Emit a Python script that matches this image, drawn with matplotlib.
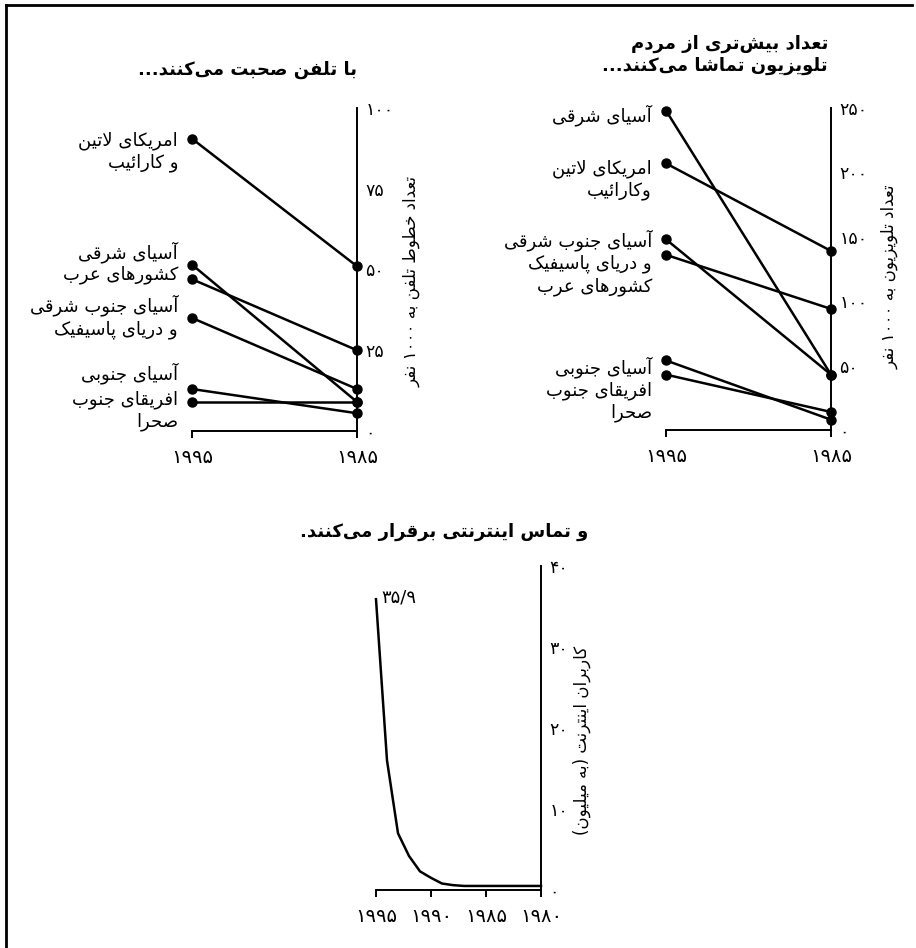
import matplotlib
matplotlib.use('Agg')
import matplotlib.pyplot as plt
from matplotlib.lines import Line2D
from matplotlib.ticker import FixedLocator, FuncFormatter

plt.rcParams['font.family'] = ['DejaVu Sans']

W, H = 916, 948

# ---- data ----
pair_years = [1995, 1985]

phone_regions = ['امریکای لاتین و کارائیب', 'آسیای شرقی', 'کشورهای عرب',
                 'آسیای جنوب شرقی و دریای پاسیفیک', 'آسیای جنوبی', 'افریقای جنوب صحرا']
phone_1995 = [90.5, 51.5, 47, 35, 13, 9]
phone_1985 = [51, 9, 25, 13, 5.5, 9]
phone_ticks = [0, 25, 50, 75, 100]

tv_regions = ['آسیای شرقی', 'امریکای لاتین و کارائیب', 'آسیای جنوب شرقی و دریای پاسیفیک',
              'کشورهای عرب', 'آسیای جنوبی', 'افریقای جنوب صحرا']
tv_1995 = [248, 207, 148, 136, 54, 43]
tv_1985 = [43, 139, 43, 94, 8, 14]
tv_ticks = [0, 50, 100, 150, 200, 250]

net_years = [1995, 1994, 1993, 1992, 1991, 1990, 1989, 1988,
             1987, 1986, 1985, 1984, 1983, 1982, 1981, 1980]
net_users = [35.9, 16.0, 7.0, 4.2, 2.3, 1.5, 0.8, 0.6,
             0.5, 0.5, 0.5, 0.5, 0.5, 0.5, 0.5, 0.5]
net_xticks = [1995, 1990, 1985, 1980]
net_yticks = [0, 10, 20, 30, 40]

# ---- minimal persian shaping (matplotlib has no bidi / joining) ----
FORMS = {
    'ا': (0xFE8D, 0xFE8E, None, None), 'آ': (0xFE81, 0xFE82, None, None),
    'د': (0xFEA9, 0xFEAA, None, None), 'ذ': (0xFEAB, 0xFEAC, None, None),
    'ر': (0xFEAD, 0xFEAE, None, None), 'ز': (0xFEAF, 0xFEB0, None, None),
    'ژ': (0xFB8A, 0xFB8B, None, None), 'و': (0xFEED, 0xFEEE, None, None),
    'ئ': (0xFE89, 0xFE8A, 0xFE8B, 0xFE8C), 'ب': (0xFE8F, 0xFE90, 0xFE91, 0xFE92),
    'پ': (0xFB56, 0xFB57, 0xFB58, 0xFB59), 'ت': (0xFE95, 0xFE96, 0xFE97, 0xFE98),
    'ث': (0xFE99, 0xFE9A, 0xFE9B, 0xFE9C), 'ج': (0xFE9D, 0xFE9E, 0xFE9F, 0xFEA0),
    'چ': (0xFB7A, 0xFB7B, 0xFB7C, 0xFB7D), 'ح': (0xFEA1, 0xFEA2, 0xFEA3, 0xFEA4),
    'خ': (0xFEA5, 0xFEA6, 0xFEA7, 0xFEA8), 'س': (0xFEB1, 0xFEB2, 0xFEB3, 0xFEB4),
    'ش': (0xFEB5, 0xFEB6, 0xFEB7, 0xFEB8), 'ص': (0xFEB9, 0xFEBA, 0xFEBB, 0xFEBC),
    'ض': (0xFEBD, 0xFEBE, 0xFEBF, 0xFEC0), 'ط': (0xFEC1, 0xFEC2, 0xFEC3, 0xFEC4),
    'ظ': (0xFEC5, 0xFEC6, 0xFEC7, 0xFEC8), 'ع': (0xFEC9, 0xFECA, 0xFECB, 0xFECC),
    'غ': (0xFECD, 0xFECE, 0xFECF, 0xFED0), 'ف': (0xFED1, 0xFED2, 0xFED3, 0xFED4),
    'ق': (0xFED5, 0xFED6, 0xFED7, 0xFED8), 'ک': (0xFB8E, 0xFB8F, 0xFB90, 0xFB91),
    'گ': (0xFB92, 0xFB93, 0xFB94, 0xFB95), 'ل': (0xFEDD, 0xFEDE, 0xFEDF, 0xFEE0),
    'م': (0xFEE1, 0xFEE2, 0xFEE3, 0xFEE4), 'ن': (0xFEE5, 0xFEE6, 0xFEE7, 0xFEE8),
    'ه': (0xFEE9, 0xFEEA, 0xFEEB, 0xFEEC), 'ی': (0xFBFC, 0xFBFD, 0xFBFE, 0xFBFF),
}
LAM_ALEF = {'ا': (0xFEFB, 0xFEFC), 'آ': (0xFEF5, 0xFEF6)}
DIGITS = '۰۱۲۳۴۵۶۷۸۹0123456789/'
MIRROR = {'(': ')', ')': '('}


def joins_next(c):
    return c in FORMS and FORMS[c][2] is not None


def shape_line(text):
    out = []
    i, n = 0, len(text)
    while i < n:
        c = text[i]
        if c not in FORMS:
            if c != '\u200c':
                out.append(c)
            i += 1
            continue
        prev_joins = i > 0 and joins_next(text[i - 1])
        if c == 'ل' and i + 1 < n and text[i + 1] in LAM_ALEF:
            iso, fin = LAM_ALEF[text[i + 1]]
            out.append(chr(fin if prev_joins else iso))
            i += 2
            continue
        next_joins = joins_next(c) and i + 1 < n and text[i + 1] in FORMS
        iso, fin, ini, med = FORMS[c]
        if prev_joins and next_joins:
            g = med
        elif prev_joins:
            g = fin
        elif next_joins:
            g = ini
        else:
            g = iso
        out.append(chr(g))
        i += 1
    vis = [MIRROR.get(c, c) for c in reversed(out)]
    # keep runs of digits left to right
    res, run = [], []
    for c in vis:
        if c in DIGITS:
            run.append(c)
        else:
            res.extend(reversed(run))
            run = []
            res.append(c)
    res.extend(reversed(run))
    return ''.join(res)


def fa(text):
    return '\n'.join(shape_line(t) for t in text.split('\n'))


def fa_num(v):
    return str(int(v)).translate(str.maketrans('0123456789', '۰۱۲۳۴۵۶۷۸۹'))


def px(x, y):
    return x / W, 1 - y / H


fig = plt.figure(figsize=(W / 100, H / 100), dpi=100)


def make_axes(x0, x1, y_top, y_bot):
    ax = fig.add_axes([x0 / W, 1 - y_bot / H, (x1 - x0) / W, (y_bot - y_top) / H])
    ax.spines['top'].set_visible(False)
    ax.spines['left'].set_visible(False)
    for s in ('right', 'bottom'):
        ax.spines[s].set_linewidth(1.4)
    ax.yaxis.tick_right()
    ax.tick_params(axis='y', length=0, pad=6, labelsize=12.5)
    ax.tick_params(axis='x', direction='out', length=5, width=1.4, pad=7, labelsize=14)
    ax.xaxis.set_major_formatter(FuncFormatter(lambda v, p: fa_num(v)))
    ax.yaxis.set_major_formatter(FuncFormatter(lambda v, p: fa_num(v)))
    ax.patch.set_visible(False)
    return ax


def slope(ax, v95, v85):
    for a, b in zip(v95, v85):
        ax.plot(pair_years, [a, b], color='black', lw=1.8, marker='o', ms=6.5,
                clip_on=False, solid_capstyle='round')


# telephone panel
ax1 = make_axes(192, 357, 108, 431)
ax1.set_xlim(1995, 1985)
ax1.set_ylim(0, 100)
ax1.xaxis.set_major_locator(FixedLocator(pair_years))
ax1.yaxis.set_major_locator(FixedLocator(phone_ticks))
slope(ax1, phone_1995, phone_1985)

phone_label_pos = [86.5, 55.5, 48.3, 35.4, 18, 6.2]
phone_label_txt = ['امریکای لاتین\nو کارائیب', 'آسیای شرقی', 'کشورهای عرب',
                   'آسیای جنوب شرقی\nو دریای پاسیفیک', 'آسیای جنوبی', 'افریقای جنوب\nصحرا']
for t, yv in zip(phone_label_txt, phone_label_pos):
    ax1.annotate(fa(t), xy=(1995, yv), xytext=(-10, 0), textcoords='offset points',
                 ha='right', va='center', fontsize=13, multialignment='right',
                 linespacing=1.25, annotation_clip=False)

# tv panel
ax2 = make_axes(666, 831, 108, 430)
ax2.set_xlim(1995, 1985)
ax2.set_ylim(0, 250)
ax2.xaxis.set_major_locator(FixedLocator(pair_years))
ax2.yaxis.set_major_locator(FixedLocator(tv_ticks))
slope(ax2, tv_1995, tv_1985)

tv_label_pos = [244.6, 194.5, 130, 31.8]
tv_label_txt = ['آسیای شرقی', 'امریکای لاتین\nوکارائیب',
                'آسیای جنوب شرقی\nو دریای پاسیفیک\nکشورهای عرب', 'آسیای جنوبی\nافریقای جنوب\nصحرا']
for t, yv in zip(tv_label_txt, tv_label_pos):
    ax2.annotate(fa(t), xy=(1995, yv), xytext=(-10, 0), textcoords='offset points',
                 ha='right', va='center', fontsize=13, multialignment='right',
                 linespacing=1.25, annotation_clip=False)

# internet panel
ax3 = make_axes(376, 541, 566, 890)
ax3.set_xlim(1995, 1980)
ax3.set_ylim(0, 40)
ax3.xaxis.set_major_locator(FixedLocator(net_xticks))
ax3.yaxis.set_major_locator(FixedLocator(net_yticks))
ax3.plot(net_years, net_users, color='black', lw=1.8, clip_on=False)
ax3.annotate('۳۵/۹', xy=(net_years[0], net_users[0]), xytext=(4, 1), textcoords='offset points',
             ha='left', va='center', fontsize=13, annotation_clip=False)

# titles
fig.text(*px(357, 70), fa('با تلفن صحبت می\u200cکنند...'), ha='right', va='center',
         fontsize=13, fontweight='bold')
fig.text(*px(828, 55), fa('تعداد بیش\u200cتری از مردم\nتلویزیون تماشا می\u200cکنند...'), ha='right',
         va='center', fontsize=13, fontweight='bold', multialignment='right', linespacing=1.25)
fig.text(*px(588, 532), fa('و تماس اینترنتی برقرار می\u200cکنند.'), ha='right', va='center',
         fontsize=13, fontweight='bold')

# axis titles
fig.text(*px(412, 281), fa('تعداد خطوط تلفن به ۱۰۰۰ نفر'), rotation=90, ha='center', va='center',
         fontsize=12)
fig.text(*px(890, 277), fa('تعداد تلویزیون به ۱۰۰۰ نفر'), rotation=90, ha='center', va='center',
         fontsize=12)
fig.text(*px(582, 740), fa('کاربران اینترنت (به میلیون)'), rotation=90, ha='center', va='center',
         fontsize=12)

# frame
fig.add_artist(Line2D([6 / W, 6 / W], [0, 1 - 5 / H], transform=fig.transFigure, color='black', lw=2))
fig.add_artist(Line2D([6 / W, 912 / W], [1 - 5 / H, 1 - 5 / H], transform=fig.transFigure,
                      color='black', lw=2))

fig.savefig('out.png', dpi=100, facecolor='white')
